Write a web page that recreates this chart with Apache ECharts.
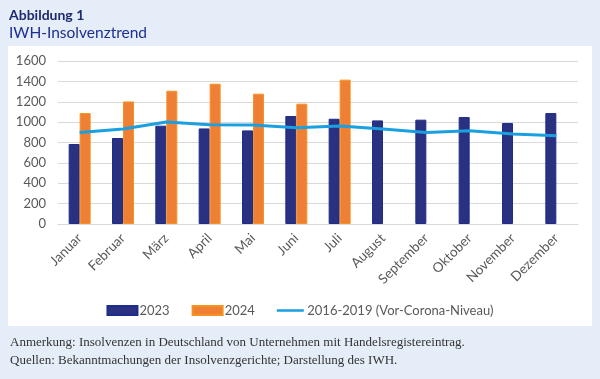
<!DOCTYPE html>
<html><head><meta charset="utf-8">
<script src="https://cdn.jsdelivr.net/npm/echarts@6/dist/echarts.min.js"></script>
<style>html,body{margin:0;padding:0;background:#e5edf8;}#c{width:600px;height:379px;}</style>
</head><body><div id="c"></div>
<script>
const months = ['Januar','Februar','März','April','Mai','Juni','Juli','August','September','Oktober','November','Dezember'];
const values2023 = [785, 844, 965, 938, 919, 1060, 1033, 1017, 1024, 1050, 991, 1089];
const values2024 = [1089, 1203, 1308, 1377, 1279, 1181, 1417, null, null, null, null, null];
const valuesPreCorona = [899, 932, 1001, 974, 971, 945, 962, 932, 899, 916, 883, 867];
const yTicks = [0, 200, 400, 600, 800, 1000, 1200, 1400, 1600];

const chart = echarts.init(document.getElementById('c'), null, {renderer:'canvas'});
const F = 'Lato, "DejaVu Sans", sans-serif';
chart.setOption({
  backgroundColor: '#e5edf8',
  animation: false,
  graphic: [
    {type:'rect', shape:{x:8, y:46, width:584, height:280}, style:{fill:'#ffffff'}, z:-10},
    {type:'text', left:9, top:8, style:{text:'Abbildung 1', font:'bold 14px ' + F, fill:'#1c2a6e'}},
    {type:'text', left:9, top:25, style:{text:'IWH-Insolvenztrend', font:'15.5px ' + F, fill:'#1d2f90'}},
    {type:'text', left:10, top:336, style:{text:'Anmerkung: Insolvenzen in Deutschland von Unternehmen mit Handelsregistereintrag.', font:'13px "Liberation Serif", serif', fill:'#333333'}},
    {type:'text', left:10, top:354, style:{text:'Quellen: Bekanntmachungen der Insolvenzgerichte; Darstellung des IWH.', font:'13px "Liberation Serif", serif', fill:'#333333'}}
  ],
  grid: {left:58, right:22, top:61, bottom:155, containLabel:false},
  legend: {
    top: 299, left: 'center',
    itemWidth: 30, itemHeight: 9, itemGap: 22,
    textStyle: {fontFamily: F, fontSize: 13, color:'#595959', padding:[0,0,0,-3]},
    data: [
      {name:'2023', icon:'rect'},
      {name:'2024', icon:'rect'},
      {name:'2016-2019 (Vor-Corona-Niveau)', icon:'path://M0,0M0,10M0,3.6L30,3.6L30,6.4L0,6.4Z'}
    ]
  },
  xAxis: {
    type:'category', data: months,
    axisLine:{lineStyle:{color:'#d9d9d9'}}, axisTick:{show:false},
    axisLabel:{rotate:45, interval:0, fontFamily:F, fontSize:13.5, color:'#595959', margin:12}
  },
  yAxis: {
    type:'value', min: yTicks[0], max: yTicks[yTicks.length-1], interval: 200,
    axisLine:{show:false}, axisTick:{show:false},
    splitLine:{lineStyle:{color:'#d9d9d9', width:1}},
    axisLabel:{fontFamily:F, fontSize:13, color:'#595959', margin:12, formatter: v => String(v)}
  },
  series: [
    {name:'2023', type:'bar', data: values2023, barWidth:11, barGap:'0%',
     itemStyle:{color:'#2a3180', borderColor:'#1d2d8c', borderWidth:1}},
    {name:'2024', type:'bar', data: values2024, barWidth:11, barGap:'0%',
     itemStyle:{color:'#ee7f35', borderColor:'#f4931f', borderWidth:1}},
    {name:'2016-2019 (Vor-Corona-Niveau)', type:'line', data: valuesPreCorona,
     symbol:'none', lineStyle:{color:'#1a9fe0', width:3}, itemStyle:{color:'#1a9fe0'}, z:5}
  ]
});
</script></body></html>
